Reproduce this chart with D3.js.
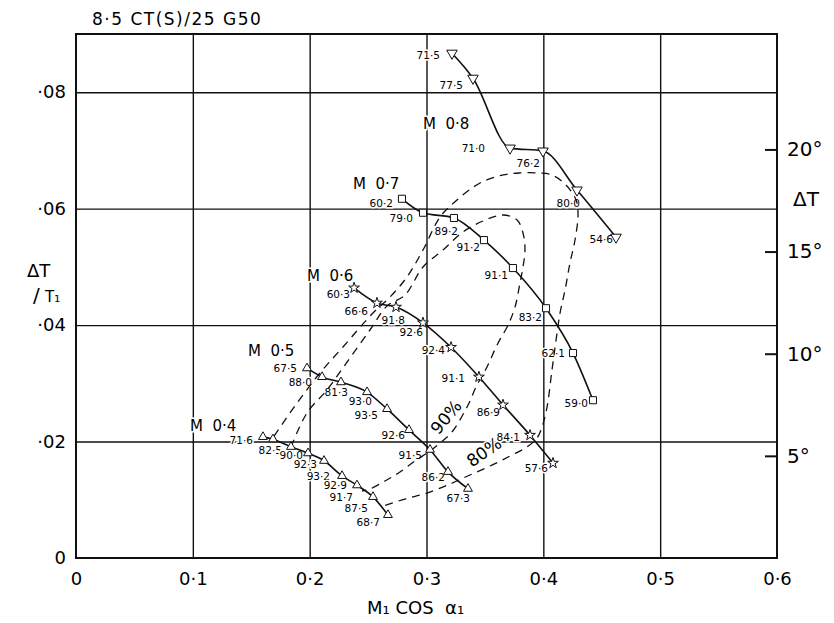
<!DOCTYPE html>
<html>
<head>
<meta charset="utf-8">
<script src="https://cdn.jsdelivr.net/npm/d3@7"></script>
<style>
  body { margin: 0; background: #fff; }
  svg { font-family: "DejaVu Sans", sans-serif; }
</style>
</head>
<body>
<div id="chart"></div>
<script>
const width = 834;
const height = 623;

// axes
const xTicks = [0, 0.1, 0.2, 0.3, 0.4, 0.5, 0.6];
const yTicks = [0, 0.02, 0.04, 0.06, 0.08];
const degTicks = [5, 10, 15, 20];
const T1 = 285; // inlet temperature, K (right hand scale)

// M 0.4 (triangles)
const m04x = [0.160, 0.1686, 0.184, 0.1986, 0.2123, 0.2277, 0.2405, 0.2542, 0.267];
const m04y = [0.0208, 0.0204, 0.0191, 0.0180, 0.0167, 0.0141, 0.0125, 0.0105, 0.0074];
const m04eff = [71.6, 82.5, 90.0, 92.3, 93.2, 92.9, 91.7, 87.5, 68.7];

// M 0.5 (triangles)
const m05x = [0.1977, 0.2106, 0.2268, 0.2491, 0.2662, 0.2850, 0.3030, 0.3184, 0.3355];
const m05y = [0.0326, 0.0311, 0.0302, 0.0285, 0.0256, 0.0220, 0.0186, 0.0148, 0.0119];
const m05eff = [67.5, 88.0, 81.3, 93.0, 93.5, 92.6, 91.5, 86.2, 67.3];

// M 0.6 (stars)
const m06x = [0.2380, 0.2576, 0.2739, 0.2970, 0.3210, 0.3449, 0.3655, 0.3886, 0.4083];
const m06y = [0.0464, 0.0438, 0.0431, 0.0404, 0.0362, 0.0311, 0.0263, 0.0211, 0.0163];
const m06eff = [60.3, 66.6, 91.8, 92.6, 92.4, 91.1, 86.9, 84.1, 57.6];

// M 0.7 (squares)
const m07x = [0.2790, 0.2970, 0.3235, 0.3492, 0.3740, 0.4023, 0.4254, 0.4425];
const m07y = [0.0617, 0.0593, 0.0584, 0.0546, 0.0498, 0.0429, 0.0352, 0.0271];
const m07eff = [60.2, 79.0, 89.2, 91.2, 91.1, 83.2, 62.1, 59.0];

// M 0.8 (inverted triangles)
const m08x = [0.3218, 0.3398, 0.3715, 0.3997, 0.4288, 0.4622];
const m08y = [0.0867, 0.0824, 0.0704, 0.0699, 0.0632, 0.0551];
const m08eff = [71.5, 77.5, 71.0, 76.2, 80.0, 54.6];

// 80 % efficiency contour
const c80x = [0.1695, 0.1892, 0.2088, 0.2285, 0.2542, 0.2688, 0.2833, 0.2970, 0.3116, 0.3261,
  0.3458, 0.3655, 0.3800, 0.3946, 0.4074, 0.4194, 0.4280, 0.4297, 0.4271, 0.4228, 0.4186,
  0.4143, 0.4109, 0.4074, 0.4032, 0.3989, 0.3946, 0.3860, 0.3715, 0.3544, 0.3372, 0.3201,
  0.3004, 0.2816, 0.2628];
const c80y = [0.02095, 0.02662, 0.03178, 0.03624, 0.04208, 0.04483, 0.04827, 0.05290, 0.05857,
  0.06149, 0.06441, 0.06579, 0.06613, 0.06613, 0.06579, 0.06407, 0.06149, 0.05891, 0.05462,
  0.05067, 0.04603, 0.04208, 0.03744, 0.03229, 0.02594, 0.02250, 0.02061, 0.01907, 0.01752,
  0.01580, 0.01426, 0.01271, 0.01116, 0.01013, 0.00893];

// 90 % efficiency contour
const c90x = [0.1840, 0.1977, 0.2148, 0.2320, 0.2516, 0.2662, 0.2816, 0.2970, 0.3141, 0.3312,
  0.3484, 0.3655, 0.3775, 0.3826, 0.3843, 0.3826, 0.3800, 0.3758, 0.3698, 0.3604, 0.3518,
  0.3432, 0.3347, 0.3218, 0.3116, 0.3030, 0.2902, 0.2773, 0.2645, 0.2516, 0.2448];
const c90y = [0.01907, 0.02491, 0.02886, 0.03366, 0.03916, 0.04328, 0.04517, 0.04998, 0.05290,
  0.05600, 0.05788, 0.05891, 0.05806, 0.05582, 0.05290, 0.04998, 0.04723, 0.04311, 0.04002,
  0.03659, 0.03281, 0.02971, 0.02594, 0.02164, 0.01975, 0.01838, 0.01666, 0.01477, 0.01323,
  0.01185, 0.01151];

// label nudges (px) for the efficiency figures beside each point
const m04off = [[-10, 7], [9, 15], [12, 12], [9, 15], [6, 19], [5, 13], [-4, 16], [-5, 15], [-8, 11]];
const m05off = [[-10, 4], [-10, 9], [7, 14], [5, 13], [-9, 10], [-4, 9], [-8, 9], [-3, 9], [2, 13]];
const m06off = [[-4, 10], [-9, 12], [9, 17], [0, 13], [-6, 7], [-14, 5], [-3, 11], [-10, 6], [-5, 9]];
const m07off = [[-9, 8], [-10, 9], [4, 17], [-4, 11], [-5, 11], [-4, 13], [-8, 4], [-5, 7]];
const m08off = [[-12, 6], [-10, 11], [-25, 4], [-3, 16], [3, 17], [-3, 6]];

const series = [
  { name: "M  0·4", xs: m04x, ys: m04y, eff: m04eff, off: m04off, shape: "tri", at: [0.0976, 0.0218] },
  { name: "M  0·5", xs: m05x, ys: m05y, eff: m05eff, off: m05off, shape: "tri", at: [0.1472, 0.0347] },
  { name: "M  0·6", xs: m06x, ys: m06y, eff: m06eff, off: m06off, shape: "star", at: [0.1977, 0.0476] },
  { name: "M  0·7", xs: m07x, ys: m07y, eff: m07eff, off: m07off, shape: "square", at: [0.2371, 0.0634] },
  { name: "M  0·8", xs: m08x, ys: m08y, eff: m08eff, off: m08off, shape: "inv", at: [0.2970, 0.0737] }
];

const contours = [
  { label: "80%", xs: c80x, ys: c80y, at: [0.3492, 0.0182], rot: -35 },
  { label: "90%", xs: c90x, ys: c90y, at: [0.3167, 0.0242], rot: -50 }
];

const svg = d3
  .select("#chart")
  .append("svg")
  .attr("width", width)
  .attr("height", height);

const x = d3.scaleLinear().domain([0, 0.6]).range([76, 777]);
const y = d3.scaleLinear().domain([0, 0.09]).range([558, 34]);
const yDeg = d3.scaleLinear().domain([0, 0.09 * T1]).range([558, 34]);

const dot = (s) => s.replace(".", "·");

// grid
svg
  .append("g")
  .attr("transform", "translate(0," + y(0) + ")")
  .call(d3.axisBottom(x).tickValues([0.1, 0.2, 0.3, 0.4, 0.5]).tickSize(-(y(0) - y(0.09))).tickFormat(""))
  .call((g) => g.select(".domain").remove())
  .selectAll("line")
  .attr("stroke", "#111")
  .attr("stroke-width", 1.4);

svg
  .append("g")
  .attr("transform", "translate(" + x(0) + ",0)")
  .call(d3.axisLeft(y).tickValues([0.02, 0.04, 0.06, 0.08]).tickSize(-(x(0.6) - x(0))).tickFormat(""))
  .call((g) => g.select(".domain").remove())
  .selectAll("line")
  .attr("stroke", "#111")
  .attr("stroke-width", 1.4);

svg
  .append("rect")
  .attr("x", x(0))
  .attr("y", y(0.09))
  .attr("width", x(0.6) - x(0))
  .attr("height", y(0) - y(0.09))
  .attr("fill", "none")
  .attr("stroke", "#111")
  .attr("stroke-width", 2);

// tick labels
const axX = svg
  .append("g")
  .attr("transform", "translate(0," + y(0) + ")")
  .call(d3.axisBottom(x).tickValues(xTicks).tickSize(0).tickPadding(14)
    .tickFormat((d) => (d === 0 ? "0" : dot(d.toFixed(1)))));
axX.select(".domain").remove();
axX.attr("font-size", 18).attr("font-family", null);

const axY = svg
  .append("g")
  .attr("transform", "translate(" + x(0) + ",0)")
  .call(d3.axisLeft(y).tickValues(yTicks).tickSize(0).tickPadding(10)
    .tickFormat((d) => (d === 0 ? "0" : "·" + d.toFixed(2).slice(2))));
axY.select(".domain").remove();
axY.attr("font-size", 18).attr("font-family", null);

const axR = svg
  .append("g")
  .attr("transform", "translate(" + x(0.6) + ",0)")
  .call(d3.axisRight(yDeg).tickValues(degTicks).tickSizeInner(-12).tickSizeOuter(0).tickPadding(10)
    .tickFormat((d) => d + "°"));
axR.select(".domain").remove();
axR.attr("font-size", 20).attr("font-family", null);
axR.selectAll("line").attr("stroke", "#111").attr("stroke-width", 2);

// titles
svg.append("text").attr("x", 92).attr("y", 25).attr("font-size", 17)
  .attr("letter-spacing", 1.5).text("8·5 CT(S)/25 G50");

svg.append("text").attr("x", 27).attr("y", 277).attr("font-size", 18).text("ΔT");
svg.append("text").attr("x", 33).attr("y", 302).attr("font-size", 20).text("/");
svg.append("text").attr("x", 45).attr("y", 302).attr("font-size", 15).text("T₁");

svg.append("text").attr("x", 793).attr("y", 206).attr("font-size", 20).text("ΔT");

svg.append("text").attr("x", 367).attr("y", 614).attr("font-size", 18)
  .attr("xml:space", "preserve").style("white-space", "pre").text("M₁ COS  α₁");

// labels first, with a white halo so grid lines break behind them
const halo = (sel) => sel.attr("stroke", "#fff").attr("stroke-width", 3).attr("paint-order", "stroke");

series.forEach((s) => {
  svg.append("text")
    .attr("x", x(s.at[0]))
    .attr("y", y(s.at[1]))
    .attr("font-size", 15)
    .style("white-space", "pre")
    .call(halo)
    .text(s.name);

  svg.append("g")
    .selectAll("text")
    .data(s.eff)
    .enter()
    .append("text")
    .attr("x", (d, i) => x(s.xs[i]) + s.off[i][0])
    .attr("y", (d, i) => y(s.ys[i]) + s.off[i][1])
    .attr("text-anchor", "end")
    .attr("font-size", 10.5)
    .call(halo)
    .text((d) => dot(d.toFixed(1)));
});

contours.forEach((c) => {
  svg.append("text")
    .attr("transform", "translate(" + x(c.at[0]) + "," + y(c.at[1]) + ") rotate(" + c.rot + ")")
    .attr("text-anchor", "middle")
    .attr("dy", "0.35em")
    .attr("font-size", 17)
    .call(halo)
    .text(c.label);
});

// dashed efficiency contours
const loop = d3.line().x((d) => x(d[0])).y((d) => y(d[1])).curve(d3.curveCatmullRom.alpha(0.5));
const smooth = d3.line().x((d) => x(d[0])).y((d) => y(d[1])).curve(d3.curveMonotoneX);

contours.forEach((c) => {
  svg.append("path")
    .attr("d", loop(c.xs.map((v, i) => [v, c.ys[i]])))
    .attr("fill", "none")
    .attr("stroke", "#111")
    .attr("stroke-width", 1.3)
    .attr("stroke-dasharray", "8,6");
});

// Mach number lines and points
const symbols = {
  tri: d3.symbol().type(d3.symbolTriangle).size(34),
  inv: d3.symbol().type(d3.symbolTriangle).size(48),
  square: d3.symbol().type(d3.symbolSquare).size(50),
  star: d3.symbol().type(d3.symbolStar).size(36)
};

series.forEach((s) => {
  svg.append("path")
    .attr("d", smooth(s.xs.map((v, i) => [v, s.ys[i]])))
    .attr("fill", "none")
    .attr("stroke", "#111")
    .attr("stroke-width", 1.6);

  svg.append("g")
    .selectAll("path")
    .data(s.eff)
    .enter()
    .append("path")
    .attr("d", symbols[s.shape]())
    .attr("transform", (d, i) =>
      "translate(" + x(s.xs[i]) + "," + y(s.ys[i]) + ")" + (s.shape === "inv" ? " rotate(180)" : ""))
    .attr("fill", "#fff")
    .attr("stroke", "#111")
    .attr("stroke-width", 1);
});
</script>
</body>
</html>
